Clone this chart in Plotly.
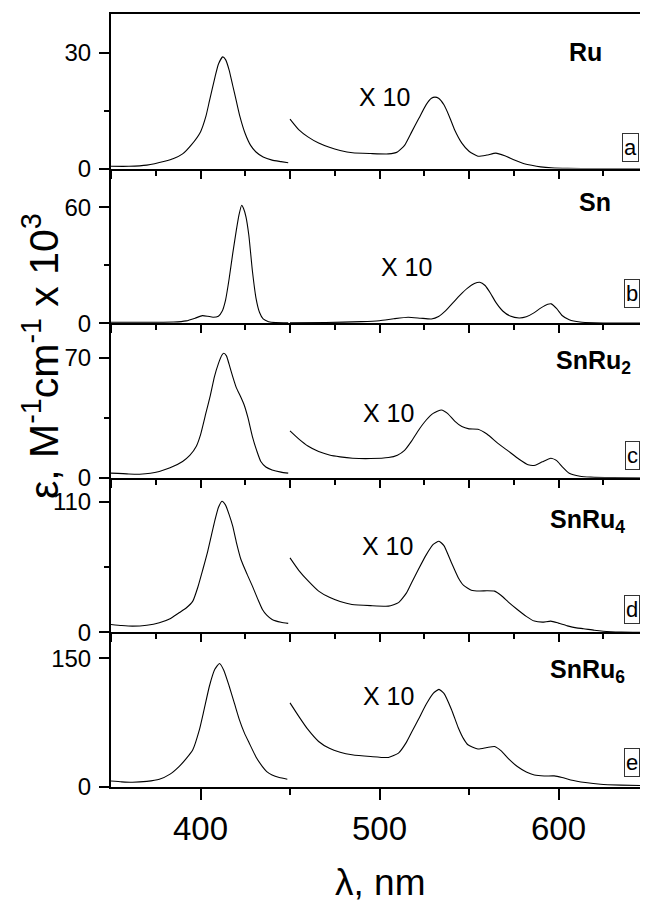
import plotly.graph_objects as go
from plotly.subplots import make_subplots

# ---------------- data ----------------
# Panel a: Ru
wl_uv_a = [350, 360, 370, 380, 385, 390, 395, 400, 403, 405, 408, 410, 412.4, 414, 416, 418, 420, 422, 425, 428, 431, 435, 440, 445, 449]
eps_uv_a = [0.6, 0.6, 0.9, 1.9, 2.6, 3.8, 6.2, 9.5, 13.5, 17.5, 23.5, 27, 28.9, 28.2, 25.5, 21.5, 17.5, 13.5, 9.0, 6.0, 4.3, 3.0, 2.2, 1.8, 1.5]
wl_vis_a = [450, 455, 460, 466, 472, 478, 485, 495, 505, 510, 514, 518, 522, 526, 529, 531, 533, 536, 539, 542, 546, 550, 555, 560, 565, 570, 575, 580, 585, 590, 596, 605, 620, 650]
eps_vis_a = [12.8, 10.0, 8.2, 6.6, 5.5, 4.7, 4.1, 3.9, 3.8, 4.3, 6.0, 9.5, 13, 16.5, 18.2, 18.5, 18.2, 16.5, 13.5, 10, 6.6, 4.5, 3.2, 3.5, 4.0, 3.3, 2.3, 1.4, 0.85, 0.45, 0.2, 0.05, 0, 0]

# Panel b: Sn
wl_uv_b = [350, 370, 385, 392, 397, 401, 404, 407, 410, 412, 414, 416, 418, 420, 421.5, 423, 424, 425.4, 427, 429, 431, 433, 435, 438, 442, 449]
eps_uv_b = [0.5, 0.5, 0.6, 1.2, 2.6, 3.9, 3.6, 3.1, 3.6, 6, 12, 23, 36, 48, 56, 61, 59.5, 55, 45.5, 27, 13, 5.5, 2.2, 0.8, 0.3, 0.2]
wl_vis_b = [450, 470, 490, 500, 508, 516, 523, 529, 533, 537, 541, 545, 549, 553, 556, 559, 562, 565, 569, 573, 578, 582, 586, 590, 594, 596, 599, 602, 606, 612, 620, 650]
eps_vis_b = [0.2, 0.4, 0.8, 1.3, 2.3, 3.1, 2.6, 2.2, 3.5, 6.5, 10.5, 14.5, 18, 20.5, 21.2, 19.5, 15.5, 10.8, 6.2, 3.7, 2.7, 3.3, 5.2, 7.8, 9.8, 10, 7.5, 4, 1.8, 0.6, 0.2, 0]

# Panel c: SnRu2
wl_uv_c = [350, 360, 366, 372, 377, 383, 390, 394, 397.6, 400, 403, 405.5, 407.8, 410, 412, 413, 414.5, 416, 418, 420, 422.5, 424.4, 426.5, 429, 431.5, 433.7, 436.5, 440, 445, 449]
eps_uv_c = [2.7, 2.2, 2.1, 2.6, 3.7, 5.8, 9.5, 13, 18.2, 25, 37.6, 48, 58.9, 66.5, 71.5, 72.5, 71, 66, 58.9, 52.5, 47, 42.4, 35, 24, 15.5, 9.5, 6.3, 4.6, 3.3, 2.7]
wl_vis_c = [450, 455, 460, 466, 472, 478, 485, 495, 505, 510, 514, 518, 522, 526, 530, 534.6, 538, 542, 546, 550, 555, 560, 566, 572, 578, 583, 587, 591, 595.7, 599, 602, 606, 612, 618, 630, 650]
eps_vis_c = [27.3, 22.5, 18.5, 15.3, 13.3, 12.2, 11.4, 11.2, 11.8, 13.2, 16, 21.5, 28, 33.5, 37.5, 39.5, 37.5, 33, 29.8, 28.5, 28.3, 25.5, 20.2, 15.5, 10.8, 7.6, 7.3, 9.3, 11.4, 10, 6.5, 2.6, 0.9, 0.4, 0.1, 0]

# Panel d: SnRu4
wl_uv_d = [350, 356, 362, 370, 377, 383, 388, 392, 395.7, 398.5, 401.3, 404, 406, 408, 410, 412, 414, 416, 418, 420, 422.6, 426, 429, 432, 434.6, 437, 440, 445, 449]
eps_uv_d = [6.7, 5.8, 5.3, 6, 8.1, 11.5, 16.5, 20.5, 26.3, 38, 52.9, 68, 81, 94, 105, 110.3, 107, 99, 89.3, 76, 61.3, 49, 38.9, 28, 19.3, 14.5, 10.9, 8.5, 7.6]
wl_vis_d = [450, 455, 460, 466, 472, 478, 484.6, 495, 505, 510.6, 515, 518, 521.7, 526, 530, 533.2, 536, 540.2, 544, 547, 551.3, 556, 560, 564.3, 568, 572, 577, 582, 586.5, 591, 595.7, 600, 605, 610, 614, 620, 625, 635, 650]
eps_vis_d = [62.7, 52, 43.5, 34.7, 29.5, 26, 23.5, 22.5, 22.1, 25, 33, 42, 52.9, 65, 74, 76.7, 73, 58.6, 46, 39.5, 35.5, 34.8, 35, 34.7, 31, 25.5, 19.3, 13.5, 9.5, 8.6, 9.5, 7.8, 5.5, 3.8, 3.1, 1.8, 1, 0.3, 0]

# Panel e: SnRu6
wl_uv_e = [350, 356, 362, 370, 377, 383, 388, 392, 395.7, 399.4, 402, 405, 408, 410.6, 413, 416, 419, 421.7, 424.5, 427.2, 431, 434.6, 437, 440, 444, 448.5]
eps_uv_e = [7, 6, 5.5, 6.5, 9, 15, 23.8, 33, 43.4, 66.8, 90, 117.6, 137, 143.8, 136, 117.6, 97, 78.5, 63, 51.2, 35, 23.8, 18, 14, 11, 9]
wl_vis_e = [450, 455, 460, 466, 472, 478, 484.6, 495, 505, 510.6, 515, 518, 521.7, 526, 530, 533.2, 536, 540.2, 544, 547, 549.4, 555, 560, 564.3, 568, 572, 577, 582, 586.5, 592, 597.6, 602, 606.8, 615, 623.5, 635, 650]
eps_vis_e = [98, 82, 67, 53, 45, 40.5, 37.5, 35.5, 34.4, 39.5, 52, 64, 78.5, 96, 109, 113.7, 109, 90.3, 69, 56, 49.2, 44.2, 46, 47.2, 42, 33, 23.8, 17.5, 14, 12.8, 12.9, 11, 8.2, 5.2, 3.2, 2.2, 1.5]

compounds = ["Ru", "Sn", "SnRu<sub>2</sub>", "SnRu<sub>4</sub>", "SnRu<sub>6</sub>"]
panel_letters = ["a", "b", "c", "d", "e"]
y_major = [[0, 30], [0, 60], [0, 70], [0, 110], [0, 150]]
y_minor = [[15], [30], [35], [55], []]
y_max = [40, 80, 90, 130, 180]
x_ticks_bottom = [400, 500, 600]
scale_label = "X 10"

uv_x = [wl_uv_a, wl_uv_b, wl_uv_c, wl_uv_d, wl_uv_e]
uv_y = [eps_uv_a, eps_uv_b, eps_uv_c, eps_uv_d, eps_uv_e]
vis_x = [wl_vis_a, wl_vis_b, wl_vis_c, wl_vis_d, wl_vis_e]
vis_y = [eps_vis_a, eps_vis_b, eps_vis_c, eps_vis_d, eps_vis_e]

# ---------------- figure ----------------
FONT = "Liberation Sans, Arial, Helvetica, sans-serif"
OFF = 8                      # page body margin
W, H = 648 - OFF, 903 - OFF
ML, MR, MT = 111 - OFF, 0, 14 - OFF
PLOT_BOTTOM = 787 - OFF
MB = H - PLOT_BOTTOM
PW, PH = W - ML - MR, PLOT_BOTTOM - MT

fig = make_subplots(rows=5, cols=1, shared_xaxes=True, vertical_spacing=0)

line = dict(color="black", width=1.1, shape="spline", smoothing=0.5)
for i in range(5):
    fig.add_trace(go.Scatter(x=uv_x[i], y=uv_y[i], mode="lines", line=line,
                             hoverinfo="skip"), row=i + 1, col=1)
    fig.add_trace(go.Scatter(x=vis_x[i], y=vis_y[i], mode="lines", line=line,
                             hoverinfo="skip"), row=i + 1, col=1)

for i in range(5):
    last = (i == 4)
    xa = dict(range=[350, 650], showline=True, linecolor="black", linewidth=2,
              showgrid=False, zeroline=False, ticks="outside", tickcolor="black",
              tickwidth=1.5, automargin=False, mirror=(i == 0))
    if last:
        xa.update(tickmode="array", tickvals=x_ticks_bottom, ticklen=11,
                  showticklabels=True,
                  tickfont=dict(family=FONT, size=33, color="black"),
                  minor=dict(tickmode="array", tickvals=[450, 550], ticks="outside",
                             ticklen=6, tickwidth=1.5, tickcolor="black"))
    else:
        xa.update(tickmode="linear", tick0=350, dtick=50, ticklen=8,
                  showticklabels=False,
                  minor=dict(tickmode="linear", tick0=375, dtick=50, ticks="outside",
                             ticklen=5, tickwidth=1.5, tickcolor="black"))
    fig.update_xaxes(xa, row=i + 1, col=1)

    ya = dict(range=[0, y_max[i]], showline=True, linecolor="black", linewidth=2,
              showgrid=False, zeroline=False, ticks="outside", tickcolor="black",
              tickwidth=1.5, ticklen=10, tickmode="array", tickvals=y_major[i],
              tickfont=dict(family=FONT, size=24, color="black"),
              ticklabelstandoff=3, automargin=False, fixedrange=True)
    if y_minor[i]:
        ya["minor"] = dict(tickmode="array", tickvals=y_minor[i], ticks="outside",
                           ticklen=5, tickwidth=1.5, tickcolor="black")
    fig.update_yaxes(ya, row=i + 1, col=1)


def paper(px, py):
    # px, py are page pixel positions measured on the reference
    return (px - OFF - ML) / PW, (PLOT_BOTTOM - (py - OFF)) / PH


annotations = []
name_pos = [(585, 52), (595, 202), (593, 362), (587, 521), (587, 671)]
x10_pos = [(384, 97), (406, 267), (388, 413), (387, 546), (388, 696)]
box_pos = [(630, 148), (632, 293), (632, 455), (632, 609), (632, 762)]
for i in range(5):
    x, y = paper(*name_pos[i])
    annotations.append(dict(x=x, y=y, xref="paper", yref="paper", text="<b>%s</b>" % compounds[i],
                            showarrow=False, xanchor="center", yanchor="middle",
                            font=dict(family=FONT, size=25, color="black")))
    x, y = paper(*x10_pos[i])
    annotations.append(dict(x=x, y=y, xref="paper", yref="paper", text=scale_label,
                            showarrow=False, xanchor="center", yanchor="middle",
                            font=dict(family=FONT, size=25, color="black")))
    x, y = paper(*box_pos[i])
    annotations.append(dict(x=x, y=y, xref="paper", yref="paper", text=panel_letters[i],
                            showarrow=False, xanchor="center", yanchor="middle",
                            bordercolor="#333", borderwidth=1, borderpad=1,
                            font=dict(family=FONT, size=22, color="black")))

x, y = paper(380, 882)
annotations.append(dict(x=x, y=y, xref="paper", yref="paper", text="λ, nm",
                        showarrow=False, xanchor="center", yanchor="middle",
                        font=dict(family=FONT, size=37, color="black")))
x, y = paper(41, 356)
annotations.append(dict(x=x, y=y, xref="paper", yref="paper",
                        text="ε, M<sup>-1</sup>cm<sup>-1</sup> x 10<sup>3</sup>",
                        textangle=-90, showarrow=False, xanchor="center", yanchor="middle",
                        font=dict(family=FONT, size=41, color="black")))

fig.update_layout(width=W, height=H, margin=dict(l=ML, r=MR, t=MT, b=MB, pad=0),
                  paper_bgcolor="white", plot_bgcolor="white", showlegend=False,
                  annotations=annotations, font=dict(family=FONT, color="black"))

fig.write_html("out.html")
